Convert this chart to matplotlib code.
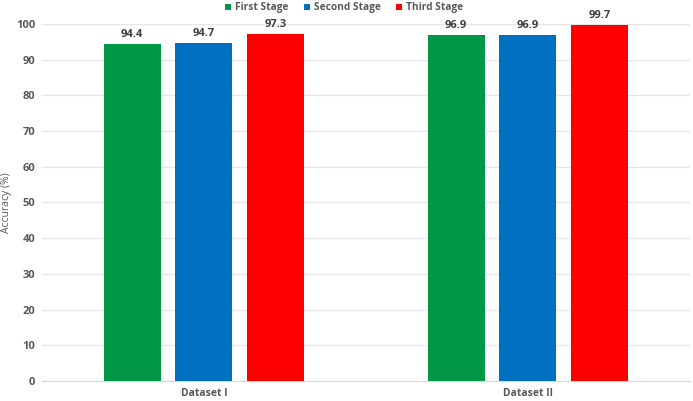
import matplotlib.pyplot as plt
import numpy as np

categories = ["Dataset I", "Dataset II"]
series = ["First Stage", "Second Stage", "Third Stage"]
first_stage = [94.4, 96.9]
second_stage = [94.7, 96.9]
third_stage = [97.3, 99.7]
colors = ["#009846", "#0070C0", "#FF0000"]

plt.rcParams['font.family'] = ['Open Sans', 'DejaVu Sans']

fig = plt.figure(figsize=(6.93, 4.01), dpi=100)
ax = fig.add_axes([0.0606, 0.0499, 0.935, 0.8903])

x = np.arange(len(categories))
width = 0.176
step = 0.222
for i, (name, vals) in enumerate(zip(series, [first_stage, second_stage, third_stage])):
    bars = ax.bar(x + (i - 1) * step, vals, width, color=colors[i], label=name, zorder=3)
    for b, v in zip(bars, vals):
        ax.text(b.get_x() + b.get_width() / 2, v + 1.1, f"{v:.1f}", ha="center", va="bottom",
                fontsize=8, fontweight="bold", color="#404040")

ax.set_xlim(-0.5, 1.5)
ax.set_ylim(0, 100)
ax.set_yticks(range(0, 101, 10))
ax.set_xticks(x)
ax.set_xticklabels(categories, fontsize=7.5, color="#595959")
ax.tick_params(axis="y", labelsize=8, labelcolor="#595959", length=0, pad=5)
ax.tick_params(axis="x", length=0, pad=5)
for t in ax.get_yticklabels():
    t.set_fontweight("bold")
for t in ax.get_xticklabels():
    t.set_fontweight("bold")
ax.grid(axis="y", color="#E6E6E6", linewidth=0.9, zorder=0)
for s in ["top", "right", "left"]:
    ax.spines[s].set_visible(False)
ax.spines["bottom"].set_color("#D9D9D9")
ax.set_ylabel("Accuracy (%)", fontsize=7.5, color="#595959")
ax.yaxis.set_label_coords(-0.046, 0.5)

leg = ax.legend(loc="center", bbox_to_anchor=(0.466, 1.045), ncol=3, frameon=False,
                handlelength=0.6, handleheight=0.6, handletextpad=0.4, columnspacing=1.5,
                prop={"size": 7.3, "weight": "bold"})
for t in leg.get_texts():
    t.set_color("#595959")

fig.savefig("out.png", dpi=100)
